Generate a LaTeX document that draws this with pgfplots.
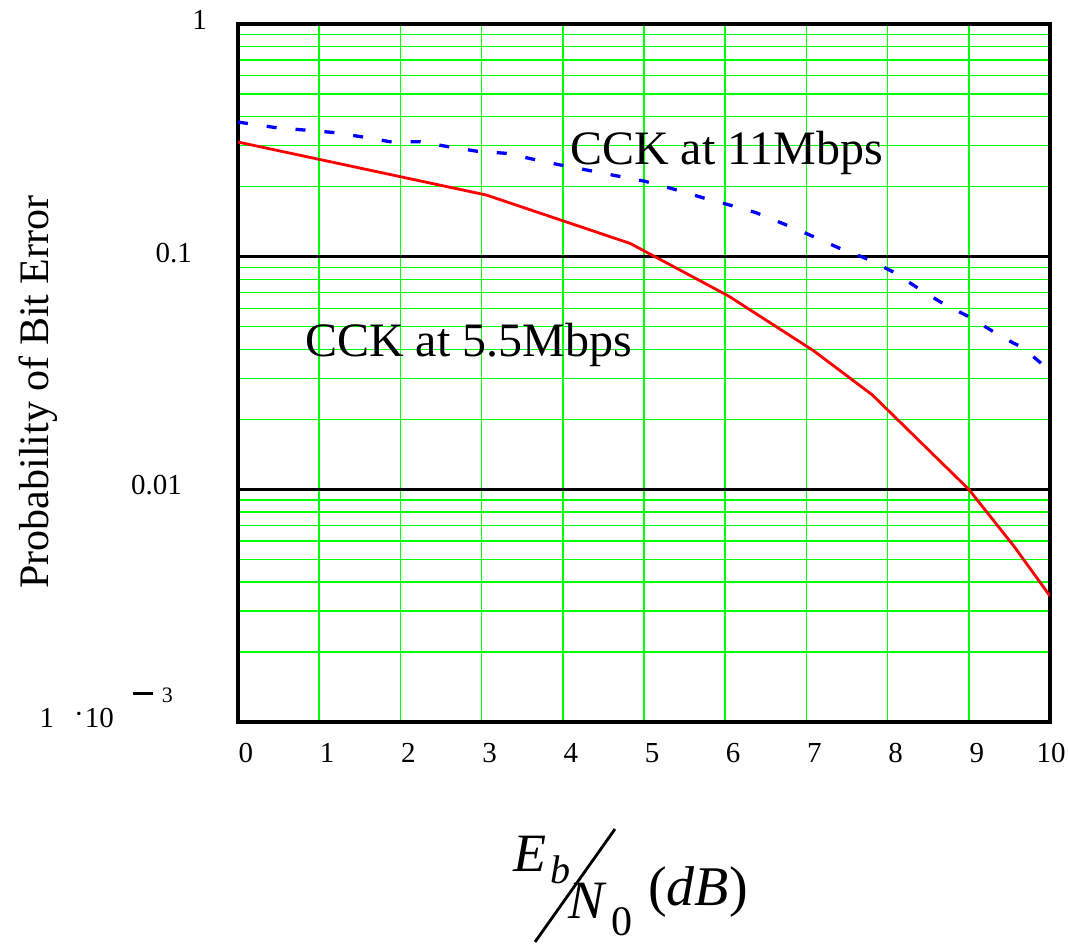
\documentclass[border=0pt]{standalone}
\usepackage{fontspec}
\setmainfont{Liberation Serif}
\usepackage{pgfplots}
\pgfplotsset{compat=1.18}
\definecolor{gridgreen}{RGB}{0,255,0}
\begin{document}
\begin{tikzpicture}
\useasboundingbox (0pt,0pt) rectangle (1068pt,-944pt);
\begin{axis}[
  at={(238pt,-722pt)}, anchor=south west,
  scale only axis, width=812pt, height=698pt,
  xmin=0, xmax=10, ymode=log, ymin=1e-3, ymax=1,
  xtick={0,1,2,3,4,5,6,7,8,9,10},
  xticklabels={0,1,2,3,4,5,6,7,8,9,\hspace*{-14pt}10},
  ytick={0.001,0.01,0.1,1},
  yticklabels={{1\hspace{20pt}\raisebox{4pt}{·}\hspace{1pt}10\hspace{19pt}\rule[33pt]{20pt}{3pt}\hspace{9pt}\raisebox{25pt}{\fontsize{22}{22}\selectfont 3}\hspace*{34pt}},{0.01\hspace*{25pt}},{0.1\hspace*{15pt}},{1}},
  minor ytick={0.002,0.003,0.004,0.005,0.006,0.007,0.008,0.009,0.02,0.03,0.04,0.05,0.06,0.07,0.08,0.09,0.2,0.3,0.4,0.5,0.6,0.7,0.8,0.9},
  major tick length=0pt, minor tick length=0pt,
  xmajorgrids, yminorgrids,
  grid style={gridgreen, line width=1.5pt},
  minor grid style={gridgreen, line width=1.4pt},
  axis line style={line width=3.5pt},
  tick label style={font=\fontsize{29}{30}\selectfont},
  xticklabel style={anchor=base, inner sep=0pt, yshift=-40pt, xshift=8pt},
  yticklabel style={anchor=base east, inner sep=0pt, xshift=-31pt, yshift=-5.5pt},
]
\draw[black, line width=3pt] (axis cs:0,0.1) -- (axis cs:10,0.1);
\draw[black, line width=3pt] (axis cs:0,0.01) -- (axis cs:10,0.01);
\addplot[red, line width=2.8pt, line join=round] coordinates {
(0,0.311) (3.06,0.184) (4.83,0.114) (6.04,0.0678) (7.08,0.0396) (7.81,0.0255) (9.00,0.0100) (9.56,0.00567) (10,0.00348)
};
\addplot[blue, line width=3.3pt, dash pattern=on 10pt off 19pt] coordinates {
(0,0.379) (0.48,0.358) (0.83,0.350) (1.17,0.342) (1.54,0.327) (1.87,0.312) (2.24,0.312) (2.59,0.297) (2.94,0.284) (3.31,0.278) (3.62,0.263) (3.94,0.249) (4.29,0.236) (4.62,0.224) (5.01,0.211) (5.37,0.195) (5.73,0.179) (6.02,0.168) (6.37,0.155) (6.75,0.137) (7.04,0.124) (7.40,0.109) (7.71,0.099) (8.07,0.086) (8.36,0.0738) (8.65,0.0639) (8.99,0.0554) (9.30,0.0477) (9.55,0.0425) (9.65,0.041) (9.9,0.0346)
};
\node[anchor=base west, inner sep=0pt, font=\fontsize{48}{48}\selectfont] at (axis cs:4.09,0.248) {CCK at 11Mbps};
\node[anchor=base west, inner sep=0pt, font=\fontsize{48}{48}\selectfont] at (axis cs:0.825,0.0371) {CCK at 5.5Mbps};
\end{axis}
\node[rotate=90, inner sep=0pt, font=\fontsize{42}{42}\selectfont] at (38pt,-392pt) {Probability of Bit Error};
\node[anchor=base west, inner sep=0pt, font=\fontsize{54}{54}\selectfont\itshape] at (513pt,-871pt) {E};
\node[anchor=base west, inner sep=0pt, font=\fontsize{40}{40}\selectfont\itshape] at (550pt,-883pt) {b};
\draw[line width=2.8pt] (535pt,-942pt) -- (615pt,-829pt);
\node[anchor=base west, inner sep=0pt, font=\fontsize{54}{54}\selectfont\itshape] at (568pt,-918pt) {N};
\node[anchor=base west, inner sep=0pt, font=\fontsize{42}{42}\selectfont] at (611pt,-935pt) {0};
\node[anchor=base west, inner sep=0pt, font=\fontsize{56}{56}\selectfont] at (648pt,-905pt) {(\textit{dB})};
\end{tikzpicture}
\end{document}
